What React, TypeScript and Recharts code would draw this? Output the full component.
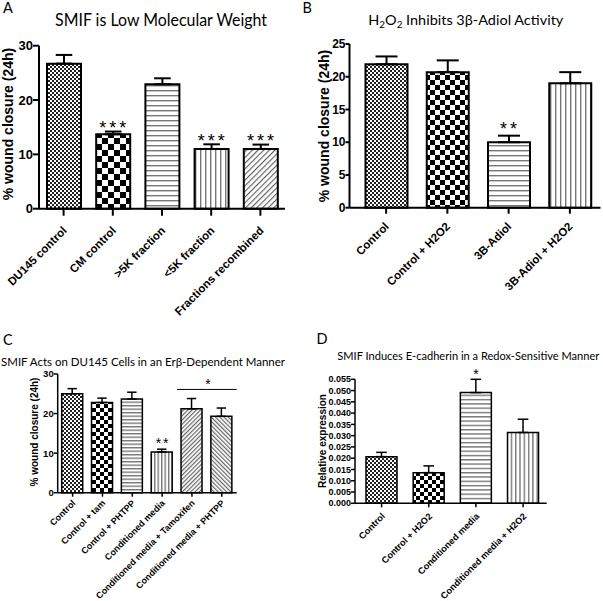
import React from 'react';
import { ComposedChart, Bar, Line, XAxis, YAxis, ErrorBar, LabelList, ReferenceLine, Cell } from 'recharts';

// ---------- Panel A ----------
const aCategories = ['DU145 control', 'CM control', '>5K fraction', '<5K fraction', 'Fractions recombined'];
const aValues = [26.7, 13.7, 22.9, 11.0, 11.0];
const aErrors = [1.6, 0.5, 1.1, 0.85, 0.8];
const aSig = ['', '***', '', '***', '***'];
const aTicks = [0, 10, 20, 30];

// ---------- Panel B ----------
const bCategories = ['Control', 'Control + H2O2', '3B-Adiol', '3B-Adiol + H2O2'];
const bValues = [21.9, 20.7, 10.0, 19.0];
const bErrors = [1.2, 1.8, 1.0, 1.7];
const bSig = ['', '', '**', ''];
const bTicks = [0, 5, 10, 15, 20, 25];

// ---------- Panel C ----------
const cCategories = ['Control', 'Control + tam', 'Control + PHTPP', 'Conditioned media', 'Conditioned media + Tamoxifen', 'Conditioned media + PHTPP'];
const cValues = [25.0, 22.8, 23.7, 10.3, 21.2, 19.3];
const cErrors = [1.3, 1.1, 1.7, 0.7, 2.6, 2.1];
const cSig = ['', '', '', '**', '', ''];
const cTicks = [0, 10, 20, 30];
const cBracketGroups = ['Conditioned media + Tamoxifen', 'Conditioned media + PHTPP'];
const cBracketLevel = 26.1;
const cBracketMark = '*';

// ---------- Panel D ----------
const dCategories = ['Control', 'Control + H2O2', 'Conditioned media', 'Conditioned media + H2O2'];
const dValues = [0.0207, 0.0136, 0.0491, 0.0314];
const dErrors = [0.0019, 0.003, 0.0059, 0.0059];
const dSig = ['', '', '*', ''];
const dTicks = [0, 0.005, 0.01, 0.015, 0.02, 0.025, 0.03, 0.035, 0.04, 0.045, 0.05, 0.055];

// fill styles per bar
const aFills = ['fine', 'check', 'h', 'v', 'd1'];
const bFills = ['fine', 'check', 'h', 'v'];
const cFills = ['fine', 'check', 'h', 'v', 'd1', 'd2'];
const dFills = ['fine', 'check', 'h', 'v'];

const AXIS_FONT = '"Liberation Sans", Arial, sans-serif';
const TITLE_FONT = 'Lato, "Open Sans", sans-serif';

type Row = { name: string; value: number; err: number[]; top: number; sig: string };
const makeRows = (cats: string[], vals: number[], errs: number[], sig: string[]): Row[] =>
  cats.map((name, i) => ({ name, value: vals[i], err: [0, errs[i]], top: vals[i] + errs[i], sig: sig[i] }));

const aRows = makeRows(aCategories, aValues, aErrors, aSig);
const bRows = makeRows(bCategories, bValues, bErrors, bSig);
const cRows = makeRows(cCategories, cValues, cErrors, cSig);
const dRows = makeRows(dCategories, dValues, dErrors, dSig);

const patterns = (p: string, check: number, h: number, v: number, d: number) => (
  <defs>
    <pattern id={`${p}-fine`} width={4} height={4} patternUnits="userSpaceOnUse">
      <rect width={4} height={4} fill="#fff" />
      <rect width={2} height={2} fill="#222" />
      <rect x={2} y={2} width={2} height={2} fill="#222" />
    </pattern>
    <pattern id={`${p}-check`} width={2 * check} height={2 * check} patternUnits="userSpaceOnUse">
      <rect width={2 * check} height={2 * check} fill="#fff" />
      <rect width={check} height={check} fill="#000" />
      <rect x={check} y={check} width={check} height={check} fill="#000" />
    </pattern>
    <pattern id={`${p}-h`} width={8} height={h} patternUnits="userSpaceOnUse">
      <rect width={8} height={h} fill="#fff" />
      <rect width={8} height={1.4} fill="#777" />
    </pattern>
    <pattern id={`${p}-v`} width={v} height={8} patternUnits="userSpaceOnUse">
      <rect width={v} height={8} fill="#fff" />
      <rect width={1.4} height={8} fill="#777" />
    </pattern>
    <pattern id={`${p}-d1`} width={d} height={8} patternUnits="userSpaceOnUse" patternTransform="rotate(45)">
      <rect width={d} height={8} fill="#fff" />
      <rect width={1.2} height={8} fill="#666" />
    </pattern>
    <pattern id={`${p}-d2`} width={d} height={8} patternUnits="userSpaceOnUse" patternTransform="rotate(-45)">
      <rect width={d} height={8} fill="#fff" />
      <rect width={1.2} height={8} fill="#666" />
    </pattern>
  </defs>
);

const makeXTick = (fs: number, dx: number, dy: number) => (props: any) => {
  const { x, y, payload } = props;
  const ax = x + dx;
  const ay = y + dy;
  return (
    <text x={ax} y={ay} transform={`rotate(-45 ${ax} ${ay})`} textAnchor="end" fontSize={fs}
      fontWeight="bold" fontFamily={AXIS_FONT} fill="#000">{payload.value}</text>
  );
};

const yLabel = (text: string, cx: number, cy: number, fs: number) => () => (
  <text x={cx} y={cy} transform={`rotate(-90 ${cx} ${cy})`} textAnchor="middle" dominantBaseline="central"
    fontSize={fs} fontWeight="bold" fontFamily={AXIS_FONT} fill="#000">{text}</text>
);

// significance text placed above the top of each error bar (point of an invisible line at value+error)
const sigLabel = (fs: number, gap: number, ls: number) => (props: any) => {
  const vb = props.viewBox ?? {};
  const x = props.x ?? vb.x;
  const y = props.y ?? vb.y;
  const val = props.value;
  if (!val || x == null || y == null) return null;
  return (
    <text x={x + ls / 2} y={y - gap} textAnchor="middle" fontSize={fs} letterSpacing={ls}
      fontFamily={AXIS_FONT} fill="#000">{val}</text>
  );
};

const sigLine = (fs: number, gap: number, ls: number) => (
  <Line dataKey="top" stroke="none" strokeWidth={0} dot={false} activeDot={false} legendType="none"
    isAnimationActive={false}>
    <LabelList dataKey="sig" content={sigLabel(fs, gap, ls)} />
  </Line>
);

const axisStyle = (sw: number) => ({ stroke: '#000', strokeWidth: sw });
const tickFont = (fs: number) => ({ fontSize: fs, fontWeight: 700, fill: '#000', fontFamily: AXIS_FONT });

export default function App() {
  return (
    <div style={{ position: 'absolute', left: 0, top: 0, width: 603, height: 601, background: '#fff', overflow: 'hidden' }}>
      {/* Panel A */}
      <div style={{ position: 'absolute', left: 0, top: 0 }}>
        <ComposedChart width={300} height={330} data={aRows} margin={{ top: 45.7, right: 15, bottom: 0, left: 0 }} barSize={34}>
          {patterns('a', 6, 5, 5, 4)}
          <XAxis dataKey="name" interval={0} height={121.3} tickSize={7} tickMargin={2}
            axisLine={axisStyle(2)} tickLine={axisStyle(2)} tick={makeXTick(11.5, 4, 13.5)} />
          <YAxis width={39} domain={[0, 30]} ticks={aTicks} interval={0} tickSize={6} tickMargin={0}
            axisLine={axisStyle(2)} tickLine={axisStyle(2)} tick={tickFont(13)}
            label={yLabel('% wound closure (24h)', 8, 124, 14)} />
          <Bar dataKey="value" stroke="#000" strokeWidth={2} isAnimationActive={false}>
            {aRows.map((r, i) => <Cell key={r.name} fill={`url(#a-${aFills[i]})`} />)}
            <ErrorBar dataKey="err" width={8.3} stroke="#000" strokeWidth={2} />
          </Bar>
          {sigLine(18, -2.5, 3)}
        </ComposedChart>
      </div>

      {/* Panel B */}
      <div style={{ position: 'absolute', left: 300, top: 0 }}>
        <ComposedChart width={303} height={330} data={bRows} margin={{ top: 44, right: 2.5, bottom: 0, left: 0 }} barSize={42}>
          {patterns('b', 5, 5, 5, 4)}
          <XAxis dataKey="name" interval={0} height={122.3} tickSize={6} tickMargin={2} padding={{ left: 6, right: 0 }}
            axisLine={axisStyle(2)} tickLine={axisStyle(2)} tick={makeXTick(11.5, 3.5, 11.5)} />
          <YAxis width={49.5} domain={[0, 25]} ticks={bTicks} interval={0} tickSize={4} tickMargin={0}
            axisLine={axisStyle(2)} tickLine={axisStyle(2)} tick={tickFont(12)}
            label={yLabel('% wound closure (24h)', 24, 126, 14)} />
          <Bar dataKey="value" stroke="#000" strokeWidth={2} isAnimationActive={false}>
            {bRows.map((r, i) => <Cell key={r.name} fill={`url(#b-${bFills[i]})`} />)}
            <ErrorBar dataKey="err" width={11} stroke="#000" strokeWidth={2} />
          </Bar>
          {sigLine(18, 1, 3)}
        </ComposedChart>
      </div>

      {/* Panel C */}
      <div style={{ position: 'absolute', left: 0, top: 300 }}>
        <ComposedChart width={300} height={301} data={cRows} margin={{ top: 74, right: 63.3, bottom: 0, left: 0 }} barSize={21}>
          {patterns('c', 4, 3.5, 3.5, 3)}
          <XAxis dataKey="name" interval={0} height={108.3} tickSize={4} tickMargin={2}
            axisLine={axisStyle(1.5)} tickLine={axisStyle(1.5)} tick={makeXTick(9, 3.5, 5)} />
          <YAxis width={57.7} domain={[0, 30]} ticks={cTicks} interval={0} tickSize={4} tickMargin={0}
            axisLine={axisStyle(1.5)} tickLine={axisStyle(1.5)} tick={tickFont(9.5)}
            label={yLabel('% wound closure (24h)', 34, 132, 10)} />
          <Bar dataKey="value" stroke="#000" strokeWidth={1.5} isAnimationActive={false}>
            {cRows.map((r, i) => <Cell key={r.name} fill={`url(#c-${cFills[i]})`} />)}
            <ErrorBar dataKey="err" width={4.7} stroke="#000" strokeWidth={1.5} />
          </Bar>
          {sigLine(14, 1, 2)}
          <ReferenceLine position="start" ifOverflow="visible"
            segment={[{ x: cBracketGroups[0], y: cBracketLevel }, { x: cBracketGroups[1], y: cBracketLevel }]}
            stroke="#000" strokeWidth={1} />
          <ReferenceLine position="end" ifOverflow="visible"
            segment={[{ x: cBracketGroups[0], y: cBracketLevel }, { x: cBracketGroups[1], y: cBracketLevel }]}
            stroke="#000" strokeWidth={1}
            label={(p: any) => {
              const vb = p.viewBox ?? p;
              return (
                <text x={vb.x + 1} y={vb.y - 0.5} textAnchor="middle" fontSize={14}
                  fontFamily={AXIS_FONT} fill="#000">{cBracketMark}</text>
              );
            }} />
        </ComposedChart>
      </div>

      {/* Panel D */}
      <div style={{ position: 'absolute', left: 300, top: 300 }}>
        <ComposedChart width={303} height={301} data={dRows} margin={{ top: 79.3, right: 56.3, bottom: 0, left: 0 }} barSize={31}>
          {patterns('d', 4, 4.3, 4.3, 3)}
          <XAxis dataKey="name" interval={0} height={97.7} tickSize={4} tickMargin={2} padding={{ left: 3, right: 0 }}
            axisLine={axisStyle(1.5)} tickLine={axisStyle(1.5)} tick={makeXTick(9.2, 4, 7.5)} />
          <YAxis width={55} domain={[0, 0.055]} ticks={dTicks} interval={0} tickSize={4} tickMargin={0}
            axisLine={axisStyle(1.5)} tickLine={axisStyle(1.5)} tick={tickFont(9)}
            tickFormatter={(v: number) => v.toFixed(3)}
            label={yLabel('Relative expression', 22.5, 141, 10)} />
          <Bar dataKey="value" stroke="#000" strokeWidth={1.5} isAnimationActive={false}>
            {dRows.map((r, i) => <Cell key={r.name} fill={`url(#d-${dFills[i]})`} />)}
            <ErrorBar dataKey="err" width={5.3} stroke="#000" strokeWidth={1.5} />
          </Bar>
          {sigLine(14, 0, 0)}
        </ComposedChart>
      </div>

      {/* Titles and panel letters */}
      <svg width={603} height={601} style={{ position: 'absolute', left: 0, top: 0, pointerEvents: 'none' }}>
        <g fontFamily={TITLE_FONT} fill="#000">
          <text x={3} y={13} fontSize={14.5}>A</text>
          <text x={55} y={26} fontSize={16.5} textLength={212} lengthAdjust="spacingAndGlyphs">SMIF is Low Molecular Weight</text>
          <text x={302.5} y={13} fontSize={14.5}>B</text>
          <text x={368.3} y={25} fontSize={14} textLength={195} lengthAdjust="spacingAndGlyphs">
            H<tspan dy={3} fontSize={9.5}>2</tspan><tspan dy={-3}>O</tspan><tspan dy={3} fontSize={9.5}>2</tspan><tspan dy={-3}> Inhibits  3β-Adiol Activity</tspan>
          </text>
          <text x={3} y={345} fontSize={14.5}>C</text>
          <text x={1} y={366} fontSize={12} textLength={284} lengthAdjust="spacingAndGlyphs">SMIF Acts on DU145 Cells in an Erβ-Dependent Manner</text>
          <text x={316.5} y={344} fontSize={14.5}>D</text>
          <text x={337.3} y={360} fontSize={11} textLength={262} lengthAdjust="spacingAndGlyphs">SMIF Induces E-cadherin in a Redox-Sensitive Manner</text>
        </g>
      </svg>
    </div>
  );
}
